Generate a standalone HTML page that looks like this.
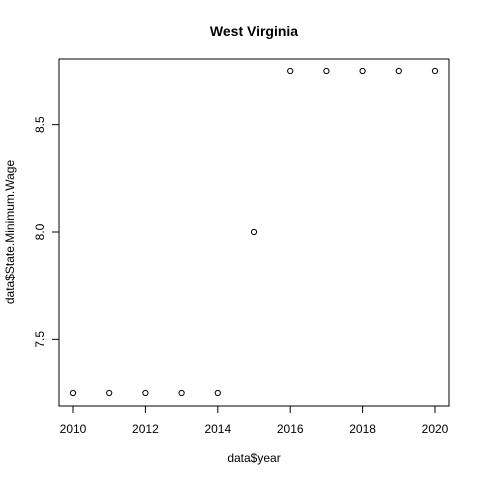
<!DOCTYPE html>
<html><head><meta charset="utf-8"><style>body{margin:0;background:#fff}svg{display:block;font-family:"Liberation Sans",Arial,sans-serif}</style></head>
<body>
<svg id="chart" width="480" height="480">
<rect x="0" y="0" width="480" height="480" fill="#fff"/>
<text x="254" y="36" text-anchor="middle" font-size="14" font-weight="bold">West Virginia</text>
<rect x="59" y="59" width="390" height="347" fill="none" stroke="#000"/>
<text x="254" y="462" text-anchor="middle" font-size="12">data$year</text>
<text transform="translate(14,232) rotate(-90)" text-anchor="middle" font-size="12">data$State.Minimum.Wage</text>
<g id="xaxis"></g>
<g id="yaxis"></g>
<g id="points"></g>
</svg>
<script>
const years = [2010,2011,2012,2013,2014,2015,2016,2017,2018,2019,2020];
const wages = [7.25,7.25,7.25,7.25,7.25,8.0,8.75,8.75,8.75,8.75,8.75];
const xTicks = [2010,2012,2014,2016,2018,2020];
const yTicks = [7.5,8.0,8.5];
const yTickLabels = ["7.5","8.0","8.5"];
const NS="http://www.w3.org/2000/svg";
function xs(v){return 73+(v-2010)*(435-73)/10;}
function ys(v){return 393-(v-7.25)*(393-71)/1.5;}
function mk(t,a,p){const e=document.createElementNS(NS,t);for(const k in a)e.setAttribute(k,a[k]);p.appendChild(e);return e;}
const xa=document.getElementById('xaxis'),ya=document.getElementById('yaxis'),pts=document.getElementById('points');
mk('line',{x1:xs(xTicks[0]),x2:xs(xTicks[xTicks.length-1]),y1:406,y2:406,stroke:'#000'},xa);
xTicks.forEach(t=>{
 const l=mk('line',{x1:xs(t),x2:xs(t),y1:406,y2:413,stroke:'#000'},xa);
 
 
 const tx=mk('text',{x:xs(t),y:433,'text-anchor':'middle','font-size':12},xa);tx.textContent=t;
 
 
});
mk('line',{x1:59,x2:59,y1:ys(yTicks[0]),y2:ys(yTicks[yTicks.length-1]),stroke:'#000'},ya);
yTicks.forEach((t,i)=>{
 const l=mk('line',{x1:52,x2:59,y1:ys(t),y2:ys(t),stroke:'#000'},ya);
 
 
 const tx=mk('text',{transform:`translate(44,${ys(t)}) rotate(-90)`,'text-anchor':'middle','font-size':12},ya);tx.textContent=yTickLabels[i];
 
 
});
years.forEach((y,i)=>{
 const c=mk('circle',{cx:xs(y),cy:ys(wages[i]),r:2.6,fill:'none',stroke:'#000','stroke-width':1},pts);
 
 
});
</script>
</body></html>
